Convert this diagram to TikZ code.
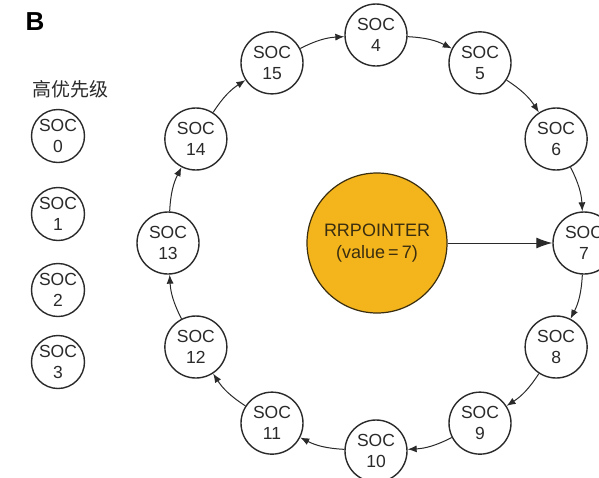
\documentclass[tikz,border=0pt]{standalone}
\usepackage{fontspec}
\setmainfont{Liberation Sans}
\newfontfamily\cjk{Noto Sans CJK SC}
\usetikzlibrary{arrows.meta}
\definecolor{ringline}{HTML}{2A2A2A}
\definecolor{pointerfill}{HTML}{F4B41C}
\definecolor{pointerline}{HTML}{3A2E10}
\tikzset{
  socnode/.style={circle, draw=ringline, line width=1.4pt, fill=white,
    minimum size=62pt, inner sep=0pt, align=center,
    font=\fontsize{17.5}{21}\selectfont, text=ringline},
  socsmall/.style={socnode, minimum size=53pt},
  ringarrow/.style={-{Latex[length=9pt,width=7pt]}, line width=1pt, draw=ringline, bend left=12},
  pointerarrow/.style={-{Latex[length=16pt,width=11pt]}, line width=1pt, draw=ringline}
}
\begin{document}
\begin{tikzpicture}[x=1pt,y=-1pt]
\useasboundingbox (0,0) rectangle (599,477);
\clip (0,0) rectangle (599,477);
\fill[white] (0,0) rectangle (599,477);

% panel letter and legend column
\node[font=\fontsize{26}{28}\selectfont\bfseries, text=black] (panel) at (35,22) {B};
\node[font=\cjk\fontsize{19}{21}\selectfont, text=ringline] (prio) at (70,89) {高优先级};
\node[socsmall] (s0) at (58,136) {SOC\\0};
\node[socsmall] (s1) at (58,214) {SOC\\1};
\node[socsmall] (s2) at (58,290) {SOC\\2};
\node[socsmall] (s3) at (58,362) {SOC\\3};

% round-robin ring, clockwise from the top
\foreach \n/\a in {4/90,5/60,6/30,7/0,8/-30,9/-60,10/-90,11/-120,12/-150,13/180,14/150,15/120}{
  \node[socnode] (s\n) at ({376+208*cos(\a)},{243-208*sin(\a)}) {SOC\\\n};
}
\foreach \p/\q in {4/5,5/6,6/7,7/8,8/9,9/10,10/11,11/12,12/13,13/14,14/15,15/4}{
  \draw[ringarrow] (s\p) to (s\q);
}

% pointer
\node[circle, draw=pointerline, line width=1.2pt, fill=pointerfill, minimum size=140pt,
  align=center, font=\fontsize{18}{22}\selectfont, text=pointerline] (ptr) at (377,243)
  {RRPOINTER\\(value\,=\,7)};
\draw[pointerarrow] (ptr) -- (s7);
\end{tikzpicture}
\end{document}
